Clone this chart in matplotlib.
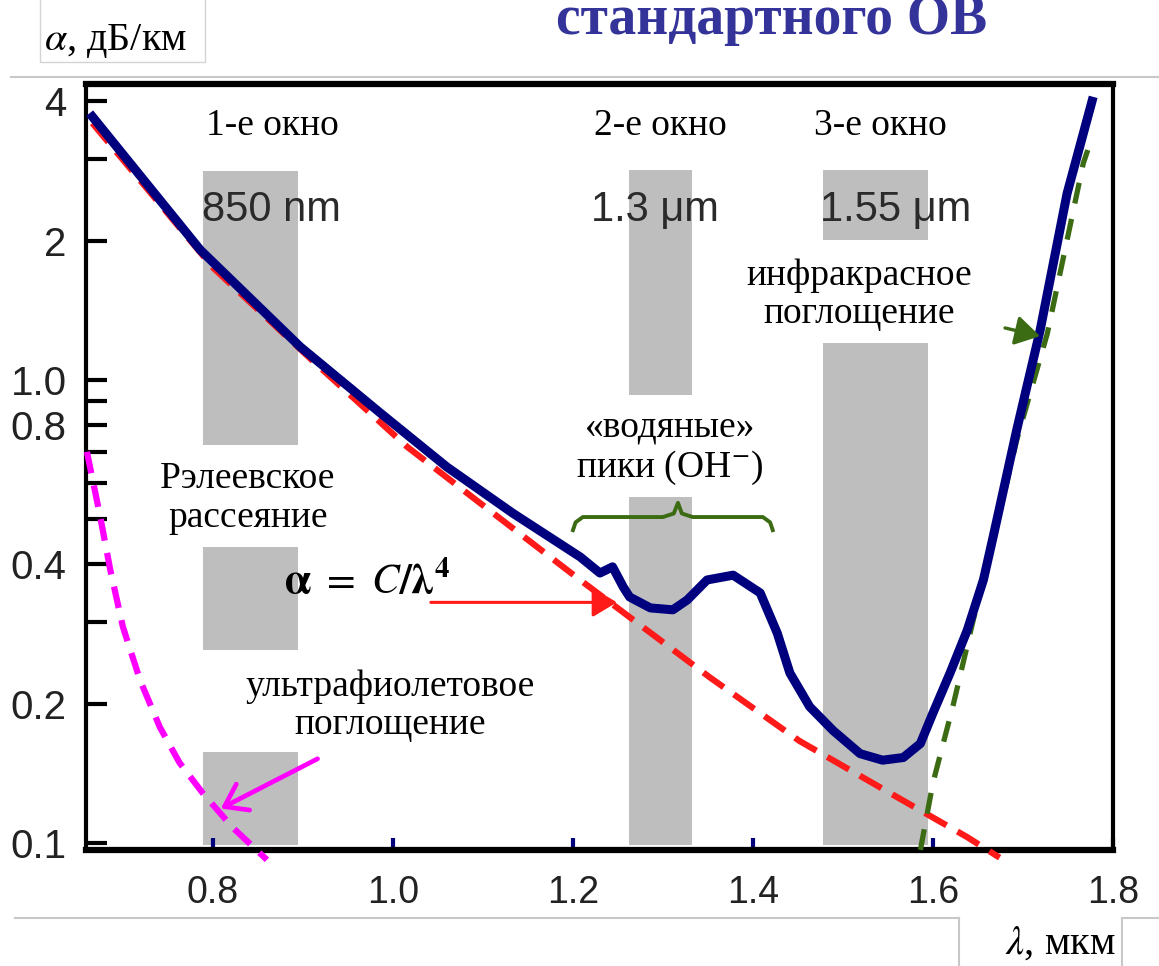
import matplotlib
matplotlib.use("Agg")
import matplotlib.pyplot as plt
from matplotlib.patches import Rectangle
from matplotlib.lines import Line2D
from matplotlib.ticker import FixedLocator, NullFormatter

plt.rcParams['font.family'] = ['Liberation Serif', 'DejaVu Serif']
plt.rcParams['mathtext.fontset'] = 'stix'

# total loss curve of a standard fibre
lam_total = [0.663, 0.786, 0.897, 0.986, 1.060, 1.133, 1.208, 1.230, 1.244, 1.256,
             1.263, 1.286, 1.311, 1.327, 1.349, 1.378, 1.408, 1.427, 1.441, 1.463,
             1.489, 1.519, 1.544, 1.567, 1.586, 1.600, 1.619, 1.638, 1.656, 1.667,
             1.693, 1.719, 1.749, 1.778]
alpha_total = [3.77, 1.91, 1.18, 0.849, 0.649, 0.516, 0.415, 0.383, 0.395, 0.357,
               0.340, 0.322, 0.319, 0.335, 0.370, 0.379, 0.347, 0.284, 0.233, 0.197,
               0.175, 0.156, 0.151, 0.153, 0.164, 0.191, 0.233, 0.288, 0.370, 0.460,
               0.780, 1.28, 2.53, 4.09]

# Rayleigh scattering, alpha = C / lambda^4
lam_rayleigh = [0.666, 0.800, 0.911, 1.016, 1.097, 1.208, 1.352, 1.452, 1.556, 1.638, 1.674]
alpha_rayleigh = [3.59, 1.75, 1.10, 0.717, 0.542, 0.370, 0.228, 0.166, 0.127, 0.103, 0.093]

# ultraviolet absorption tail
lam_uv = [0.660, 0.674, 0.686, 0.700, 0.719, 0.741, 0.763, 0.789, 0.822, 0.860]
alpha_uv = [0.70, 0.516, 0.389, 0.293, 0.225, 0.178, 0.149, 0.128, 0.108, 0.092]

# infrared absorption tail
lam_ir = [1.586, 1.600, 1.622, 1.644, 1.674, 1.693, 1.727, 1.767, 1.772]
alpha_ir = [0.0966, 0.135, 0.197, 0.299, 0.516, 0.742, 1.26, 2.94, 3.14]

# transmission windows (grey bands, broken where the labels sit)
win_left = [0.789, 1.262, 1.478]
win_right = [0.894, 1.332, 1.594]
win_segments = [
    [(0.099, 0.157), (0.261, 0.436), (0.724, 2.83)],
    [(0.099, 0.559), (0.928, 2.84)],
    [(0.099, 1.20), (2.01, 2.84)],
]
win_names = ['1-е окно', '2-е окно', '3-е окно']
win_name_x = [0.866, 1.297, 1.541]
win_wl = ['850 nm', '1.3 μm', '1.55 μm']
win_wl_x = [0.865, 1.291, 1.558]

# brace over the water peaks
lam_brace = [1.200, 1.203, 1.211, 1.300, 1.312, 1.3167, 1.321, 1.333, 1.411, 1.419, 1.422]
alpha_brace = [0.474, 0.493, 0.506, 0.506, 0.515, 0.543, 0.515, 0.506, 0.506, 0.493, 0.474]

xticks = [0.8, 1.0, 1.2, 1.4, 1.6, 1.8]
xtick_labels = ['0.8', '1.0', '1.2', '1.4', '1.6', '1.8']
yticks = [0.1, 0.2, 0.4, 0.8, 1.0, 2, 4]
ytick_labels = ['0.1', '0.2', '0.4', '0.8', '1.0', '2', '4']
yticks_minor = [0.3, 0.5, 0.6, 0.7, 0.9, 3]

fig = plt.figure(figsize=(11.59, 9.66), dpi=100)
ax = fig.add_axes([86 / 1159, 1 - 850 / 966, (1113 - 86) / 1159, (850 - 84) / 966])
ax.set_yscale('log')
ax.set_xlim(0.659, 1.8)
ax.set_ylim(0.0966, 4.36)

grey = '#bebebe'
for left, right, segs in zip(win_left, win_right, win_segments):
    for lo, hi in segs:
        ax.bar(left, hi - lo, bottom=lo, width=right - left, align='edge',
               color=grey, edgecolor='none', zorder=1)

navy = '#00007f'
red = '#ff1a1a'
green = '#3b6b12'
magenta = '#ff00ff'

ax.plot(lam_rayleigh, alpha_rayleigh, color=red, lw=4.5, ls=(0, (4, 2)),
        zorder=3, clip_on=False)
ax.plot(lam_uv, alpha_uv, color=magenta, lw=4.5, ls=(0, (3.5, 2)),
        zorder=3, clip_on=False)
ax.plot(lam_ir, alpha_ir, color=green, lw=3.8, ls=(0, (4, 3)),
        zorder=3, clip_on=False)
ax.plot(lam_total, alpha_total, color=navy, lw=6.5, zorder=4,
        solid_joinstyle='round', solid_capstyle='butt')
ax.plot(lam_brace, alpha_brace, color=green, lw=2.8, zorder=3)

# arrows
ax.annotate('', xy=(1.252, 0.331), xytext=(1.039, 0.331),
            arrowprops=dict(arrowstyle='-|>,head_length=0.5,head_width=0.3',
                            color=red, lw=2.2, mutation_scale=30), zorder=5)
ax.annotate('', xy=(0.806, 0.118), xytext=(0.919, 0.153),
            arrowprops=dict(arrowstyle='->,head_length=0.5,head_width=0.35',
                            color=magenta, lw=3.4, mutation_scale=30), zorder=5)
ax.annotate('', xy=(1.722, 1.24), xytext=(1.677, 1.30),
            arrowprops=dict(arrowstyle='-|>,head_length=0.5,head_width=0.3',
                            color=green, lw=2.4, mutation_scale=30), zorder=5)

# labels inside the plot
fs = 27
for name, x in zip(win_names, win_name_x):
    ax.text(x, 3.55, name, ha='center', va='center', fontsize=fs, zorder=6)
for wl, x in zip(win_wl, win_wl_x):
    ax.text(x, 2.33, wl, ha='center', va='center', fontsize=30,
            family=['Liberation Sans', 'DejaVu Sans'], color='#2a2a2a', zorder=6)
ax.text(1.518, 1.53, 'инфракрасное\nпоглощение', ha='center', va='center',
        fontsize=fs, linespacing=1.15, zorder=6)
ax.text(1.308, 0.713, '«водяные»\nпики (OH$^{-}$)', ha='center', va='center',
        fontsize=fs, linespacing=1.15, zorder=6)
ax.text(0.839, 0.556, 'Рэлеевское\nрассеяние', ha='center', va='center',
        fontsize=fs, linespacing=1.15, zorder=6)
ax.text(0.997, 0.198, 'ультрафиолетовое\nпоглощение', ha='center', va='center',
        fontsize=fs, linespacing=1.15, zorder=6)
ax.text(0.971, 0.366, r'$\mathbf{\alpha}\ =\ \mathbf{\mathit{C}/\lambda^{4}}$', ha='center',
        va='center', fontsize=30, zorder=6)

# axes styling
for side in ['top', 'bottom']:
    ax.spines[side].set_linewidth(4.5)
for side in ['left', 'right']:
    ax.spines[side].set_linewidth(3)

ax.yaxis.set_major_locator(FixedLocator(yticks))
ax.set_yticklabels(ytick_labels)
ax.yaxis.set_minor_locator(FixedLocator(yticks_minor))
ax.yaxis.set_minor_formatter(NullFormatter())
ax.tick_params(axis='y', which='both', direction='in', length=15, width=3,
               color='black', pad=14, labelsize=29, labelcolor='#222222')
ax.set_xticks(xticks)
ax.set_xticklabels(xtick_labels)
ax.tick_params(axis='x', direction='in', length=9, width=3, color=navy,
               pad=18, labelsize=27, labelcolor='#222222')
for lab in ax.get_xticklabels() + ax.get_yticklabels():
    lab.set_family(['Liberation Sans', 'DejaVu Sans'])

# slide decorations around the chart (title runs off the top, as on the slide)
fig.text(772 / 1159, 1 - 34 / 966, 'стандартного ОВ', ha='center', va='baseline',
         fontsize=40, fontweight='bold', color='#333399')
fig.patches.append(Rectangle((40 / 1159, 1 - 62 / 966), 165 / 1159, 70 / 966,
                             transform=fig.transFigure, fill=False,
                             edgecolor='#d4d4d4', lw=1))
fig.text(44 / 1159, 1 - 50 / 966, r'$\alpha$, дБ/км', ha='left', va='baseline',
         fontsize=29)
line_kw = dict(transform=fig.transFigure, color='#c8c8c8', lw=1.5)
fig.lines.append(Line2D([11 / 1159, 1], [1 - 77 / 966] * 2, **line_kw))
fig.lines.append(Line2D([15 / 1159, 959 / 1159], [1 - 918 / 966] * 2, **line_kw))
fig.lines.append(Line2D([1122 / 1159, 1], [1 - 918 / 966] * 2, **line_kw))
fig.lines.append(Line2D([959 / 1159] * 2, [0, 1 - 918 / 966], **line_kw))
fig.lines.append(Line2D([1122 / 1159] * 2, [0, 1 - 918 / 966], **line_kw))
fig.text(1005 / 1159, 1 - 954 / 966, r'$\lambda$, мкм', ha='left', va='baseline',
         fontsize=29)

fig.savefig('out.png', dpi=100)
